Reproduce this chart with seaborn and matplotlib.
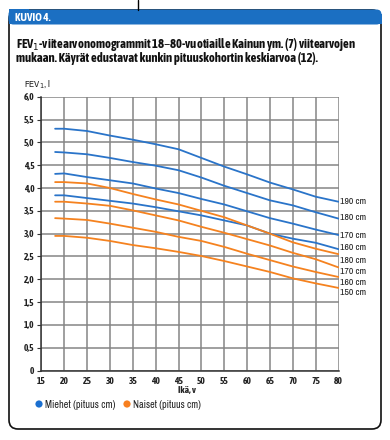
import numpy as np
import pandas as pd
import seaborn as sns
import matplotlib
matplotlib.use("Agg")
import matplotlib.pyplot as plt
from matplotlib import font_manager as fm
from matplotlib.patches import FancyBboxPatch, Rectangle, Circle

# ---- data ----
ages = [18, 20, 25, 30, 35, 40, 45, 50, 55, 60, 65, 70, 75, 80]
men_190 = [5.30, 5.30, 5.25, 5.15, 5.06, 4.96, 4.85, 4.66, 4.47, 4.30, 4.12, 3.97, 3.81, 3.70]
men_180 = [4.79, 4.78, 4.74, 4.66, 4.57, 4.49, 4.39, 4.23, 4.05, 3.89, 3.73, 3.62, 3.47, 3.33]
men_170 = [4.31, 4.32, 4.24, 4.17, 4.10, 3.99, 3.89, 3.76, 3.64, 3.49, 3.34, 3.22, 3.09, 2.97]
men_160 = [3.84, 3.84, 3.78, 3.72, 3.66, 3.58, 3.49, 3.40, 3.29, 3.18, 3.00, 2.89, 2.80, 2.66]
women_180 = [4.13, 4.13, 4.10, 4.00, 3.87, 3.75, 3.64, 3.50, 3.36, 3.18, 3.00, 2.81, 2.67, 2.55]
women_170 = [3.70, 3.70, 3.66, 3.61, 3.51, 3.40, 3.29, 3.15, 3.02, 2.88, 2.74, 2.58, 2.44, 2.26]
women_160 = [3.34, 3.33, 3.30, 3.22, 3.13, 3.04, 2.93, 2.84, 2.71, 2.56, 2.42, 2.28, 2.16, 2.05]
women_150 = [2.95, 2.95, 2.91, 2.84, 2.75, 2.68, 2.60, 2.51, 2.40, 2.28, 2.16, 2.02, 1.91, 1.81]

series_names = ["M190", "M180", "M170", "M160", "N180", "N170", "N160", "N150"]
series_values = [men_190, men_180, men_170, men_160, women_180, women_170, women_160, women_150]
series_labels = ["190 cm", "180 cm", "170 cm", "160 cm", "180 cm", "170 cm", "160 cm", "150 cm"]
x_ticks = list(range(15, 81, 5))
y_ticks = [0, 0.5, 1.0, 1.5, 2.0, 2.5, 3.0, 3.5, 4.0, 4.5, 5.0, 5.5, 6.0]
y_tick_labels = ["0", "0,5", "1,0", "1,5", "2,0", "2,5", "3,0", "3,5", "4,0", "4,5", "5,0", "5,5", "6,0"]
legend_labels = ["Miehet (pituus cm)", "Naiset (pituus cm)"]
title_lines = ["FEV$_1$-viitearvonomogrammit 18–80-vuotiaille Kainun ym. (7) viitearvojen",
               "mukaan. Käyrät edustavat kunkin pituuskohortin keskiarvoa (12)."]

# ---- style ----
BLUE = "#2a74c9"
ORANGE = "#f5821f"
HEADER = "#1b6fc2"
TXT = "#222222"
label_y = [3.70, 3.35, 2.97, 2.69, 2.42, 2.16, 1.93, 1.70]  # text positions of end labels

sns.set_style("white")
plt.rcParams["font.family"] = ["Liberation Sans", "DejaVu Sans"]


def find_font(bold):
    """Look for an installed condensed/narrow sans font; else Liberation Sans."""
    want_w = 700 if bold else 400
    cands = []
    for f in fm.fontManager.ttflist:
        name = f.name
        st = f.stretch
        cond = ("Narrow" in name or "Condensed" in name or "Condensed" in f.fname
                or (isinstance(st, str) and "condensed" in st)
                or (isinstance(st, (int, float)) and st < 500))
        if not cond:
            continue
        w = f.weight if isinstance(f.weight, (int, float)) else (700 if "bold" in str(f.weight) else 400)
        if "Italic" in f.fname or "Oblique" in f.fname or f.style != "normal":
            continue
        cands.append((abs(w - want_w), name, f.fname))
    if cands:
        cands.sort()
        best = cands[0]
        if best[0] <= 150:
            return fm.FontProperties(fname=best[2])
    return fm.FontProperties(family="Liberation Sans", weight="bold" if bold else "normal")


FP_R = find_font(False)
FP_B = find_font(True)

W, H = 390, 440
fig = plt.figure(figsize=(W / 100, H / 100), dpi=100)
renderer = fig.canvas.get_renderer()


def fit(t, target_w, max_size):
    """Shrink a text's font size so its width matches the reference width."""
    t.set_fontsize(max_size)
    w = t.get_window_extent(renderer).width
    if w > 0:
        t.set_fontsize(max_size * min(1.0, target_w / w))
    return t


# background layer in pixel coordinates
bg = fig.add_axes([0, 0, 1, 1])
bg.set_xlim(0, W)
bg.set_ylim(H, 0)
bg.axis("off")

bg.plot([138, 138], [0, 10], color="black", lw=1)
box = FancyBboxPatch((9, 10), 372, 419, boxstyle="round,pad=0,rounding_size=9",
                     fc="white", ec="#111111", lw=1.2)
bg.add_patch(box)
hdr = FancyBboxPatch((8.5, 9.5), 373, 15, boxstyle="round,pad=0,rounding_size=5",
                     fc=HEADER, ec="none")
bg.add_patch(hdr)
bg.add_patch(Rectangle((8.5, 9.5), 20, 15, fc=HEADER, ec="none"))
bg.add_patch(Rectangle((8.5, 14), 373, 10.5, fc=HEADER, ec="none"))

t = bg.text(15, 17.5, "KUVIO 4.", color="white", fontproperties=FP_B, va="center", ha="left")
fit(t, 37, 8)
t = bg.text(16, 44.5, title_lines[0], fontproperties=FP_B, va="center", ha="left", color="#111111")
fit(t, 338, 10)
title_size = t.get_fontsize()
t = bg.text(16, 58.5, title_lines[1], fontproperties=FP_B, va="center", ha="left", color="#111111")
t.set_fontsize(title_size)
t = bg.text(24, 84, "FEV$_1$, l", fontproperties=FP_R, va="center", ha="left", color=TXT)
t.set_fontsize(6.8)
t = bg.text(196, 391, "Ikä, v", fontproperties=FP_B, va="center", ha="right", color=TXT)
t.set_fontsize(6.8)

bg.add_patch(Circle((39, 404), 3.6, fc="#1a6fd0", ec="none"))
t1 = bg.text(45, 404.5, legend_labels[0], fontproperties=FP_R, va="center", ha="left", color=TXT)
fit(t1, 70, 7.5)
bg.add_patch(Circle((127, 404), 3.6, fc="#f77f1f", ec="none"))
t2 = bg.text(133, 404.5, legend_labels[1], fontproperties=FP_R, va="center", ha="left", color=TXT)
fit(t2, 68, 7.5)

# chart axes
x0, x1 = 41.4, 338.5
y_top, y_bot = 96.8, 370.5
ax = fig.add_axes([x0 / W, (H - y_bot) / H, (x1 - x0) / W, (y_bot - y_top) / H])

rows = []
for name, vals in zip(series_names, series_values):
    for a, v in zip(ages, vals):
        rows.append({"age": a, "fev": v, "series": name})
df = pd.DataFrame(rows)
palette = {n: (BLUE if n.startswith("M") else ORANGE) for n in series_names}
sns.lineplot(data=df, x="age", y="fev", hue="series", palette=palette,
             linewidth=1.3, legend=False, ax=ax, estimator=None, sort=True)

ax.set_xlim(15, 80)
ax.set_ylim(0, 6)
ax.set_xticks(x_ticks)
ax.set_yticks(y_ticks)
ax.set_yticklabels(y_tick_labels)
ax.set_xticklabels([str(v) for v in x_ticks])
ax.grid(True, color="#858585", lw=1.1)
ax.set_axisbelow(True)
for s in ["top", "right"]:
    ax.spines[s].set_visible(False)
for s in ["left", "bottom"]:
    ax.spines[s].set_color("#333333")
    ax.spines[s].set_linewidth(1.1)
ax.tick_params(axis="y", length=3, width=0.8, color="#333333", pad=2,
               labelcolor=TXT, left=True)
ax.tick_params(axis="x", length=0, pad=5, labelcolor=TXT)
ax.set_xlabel("")
ax.set_ylabel("")

for lab in ax.get_xticklabels() + ax.get_yticklabels():
    lab.set_fontproperties(FP_B)
    lab.set_fontsize(6.8)

for lab, yv in zip(series_labels, label_y):
    t = ax.text(80.3, yv, lab, fontproperties=FP_R, va="center", ha="left", color=TXT,
                clip_on=False)
    t.set_fontsize(7)

fig.savefig("out.png", dpi=100)
